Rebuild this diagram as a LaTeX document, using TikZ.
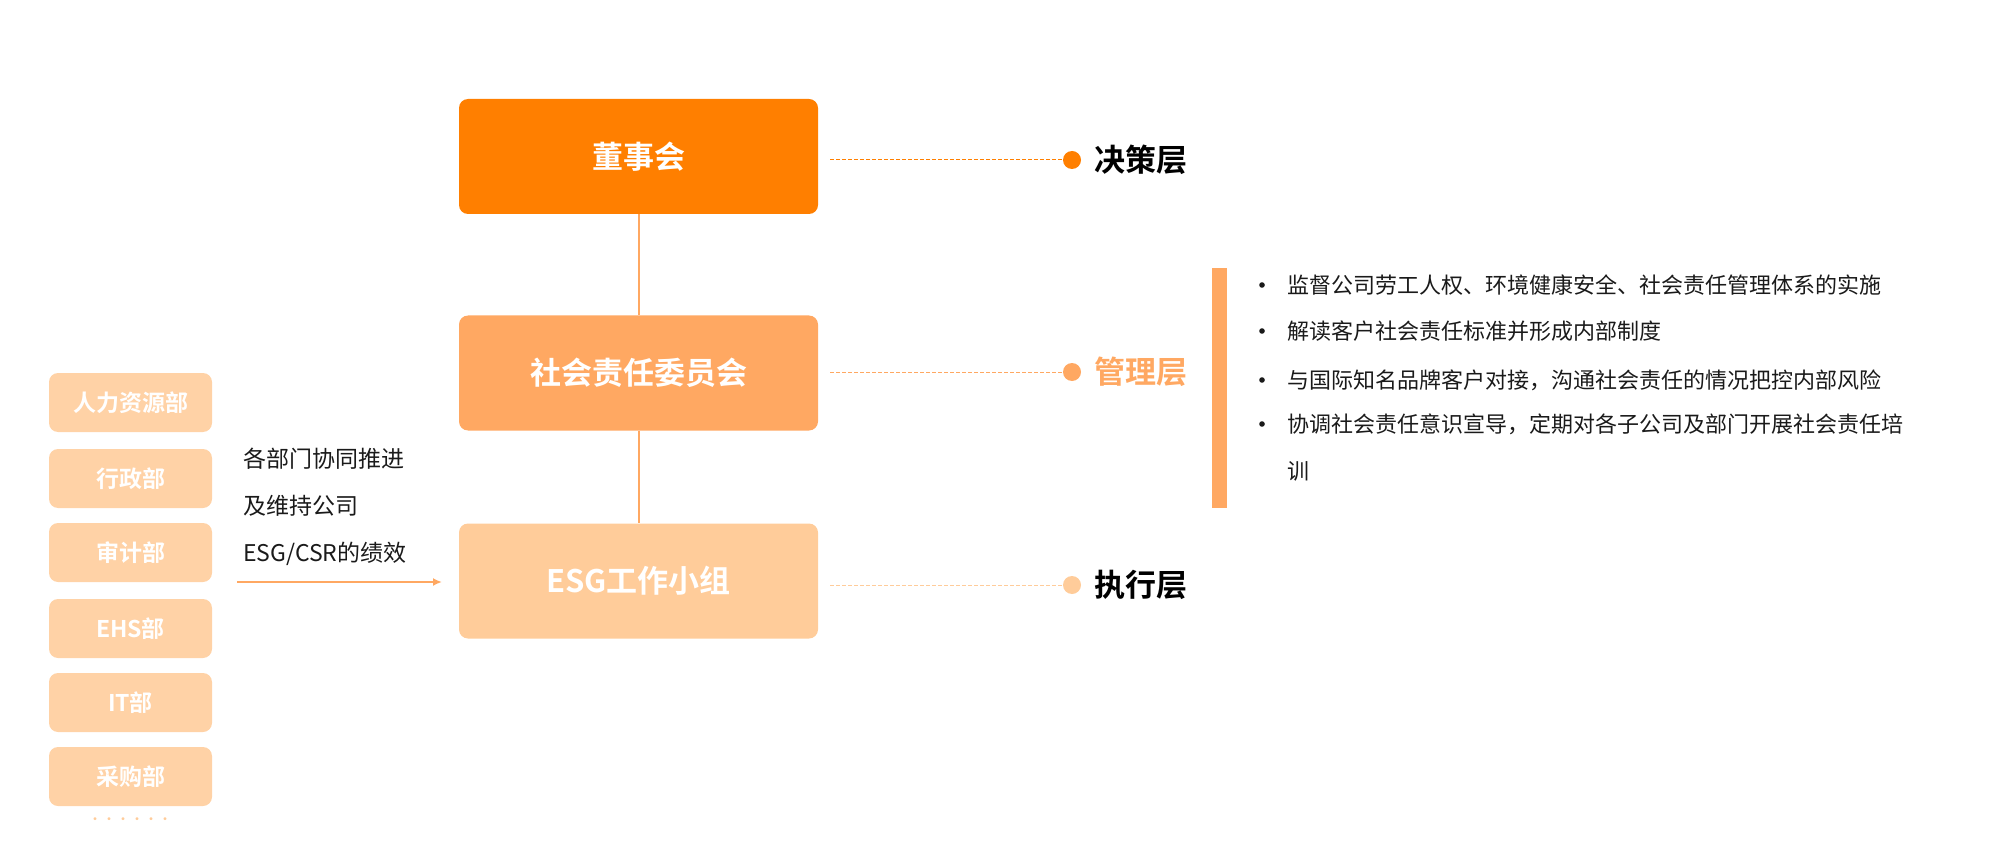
\documentclass[tikz,border=0pt]{standalone}
\usetikzlibrary{arrows.meta}
\usepackage{fontspec}
\setmainfont{Noto Sans CJK SC}
\newfontfamily\cjkb{Noto Sans CJK SC Bold}
\definecolor{cA}{HTML}{FF7F00}
\definecolor{cB}{HTML}{FFA862}
\definecolor{cC}{HTML}{FFCC9A}
\definecolor{cD}{HTML}{FFD2A6}
\definecolor{tx}{HTML}{1A1A1A}
\begin{document}
\begin{tikzpicture}[x=1pt,y=-1pt,
  big/.style={rounded corners=9pt,minimum width=359pt,minimum height=115pt,text=white,font=\cjkb\fontsize{31}{31}\selectfont,inner sep=0pt},
  dept/.style={rounded corners=9pt,fill=cD,minimum width=163pt,minimum height=59pt,text=white,font=\cjkb\fontsize{23}{23}\selectfont,inner sep=0pt},
  lay/.style={font=\cjkb\fontsize{31}{31}\selectfont,anchor=west,inner sep=0pt},
  dl/.style={dashed,dash pattern=on 4pt off 2pt,line width=1pt},
  bl/.style={font=\fontsize{22}{22}\selectfont,text=tx,anchor=west,inner sep=0pt}]
\useasboundingbox (0,0) rectangle (2000,850);
\node[big,fill=cA] (b1) at (638.5,156.5) {董事会};
\node[big,fill=cB] (b2) at (638.5,373) {社会责任委员会};
\node[big,fill=cC] (b3) at (638.5,581) {ESG工作小组};
\draw[cB,line width=2pt] (b1) -- (b2);
\draw[cB,line width=2pt] (b2) -- (b3);
\foreach \n/\t/\y in {d1/人力资源部/402.5,d2/行政部/478.5,d3/审计部/552.5,d4/EHS部/628.5,d5/IT部/702.5,d6/采购部/776.5}
  \node[dept] (\n) at (130.5,\y) {\t};
\node[cC,font=\fontsize{14}{14}\selectfont] (dots) at (130,821) {••••••};
\node[anchor=west,inner sep=0pt,font=\fontsize{23}{23}\selectfont,text=tx] (t1) at (243,459) {各部门协同推进};
\node[anchor=west,inner sep=0pt,font=\fontsize{23}{23}\selectfont,text=tx] (t2) at (243,506) {及维持公司};
\node[anchor=west,inner sep=0pt,font=\fontsize{23}{23}\selectfont,text=tx] (t3) at (243,554) {ESG/CSR的绩效};
\coordinate (as) at (237,582);
\coordinate (ae) at (442,582);
\draw[cB,line width=2pt,-{Latex[length=9pt,width=8pt]}] (as) -- (ae);
\foreach \i/\c/\y/\t/\tc in {1/cA/160/决策层/black,2/cB/372/管理层/cB,3/cC/585/执行层/black}{
  \coordinate (s\i) at (830,\y);
  \fill[\c] (1072,\y) circle (9pt) coordinate (p\i);
  \draw[dl,\c] (s\i) -- (p\i);
  \node[lay,text=\tc] (l\i) at (1094,\y) {\t};
}
\fill[cB] (1212,268) rectangle (1227,508);
\foreach \y/\t in {285/监督公司劳工人权、环境健康安全、社会责任管理体系的实施,331/解读客户社会责任标准并形成内部制度,380/与国际知名品牌客户对接，沟通社会责任的情况把控内部风险,424/协调社会责任意识宣导，定期对各子公司及部门开展社会责任培}{
  \fill[tx] (1262,\y) circle (2.8pt);
  \node[bl] at (1287,\y) {\t};
}
\node[bl] at (1287,471) {训};
\end{tikzpicture}
\end{document}
